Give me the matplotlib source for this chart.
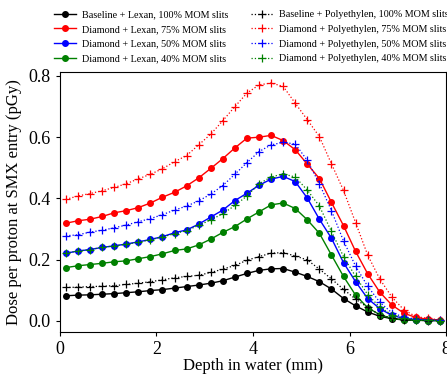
import matplotlib
matplotlib.use("Agg")
import matplotlib.pyplot as plt
import numpy as np

plt.rcParams['font.family'] = ['Liberation Serif', 'DejaVu Serif']
plt.rcParams['mathtext.fontset'] = 'stix'

# depth positions (mm), one bin every 0.25 mm
depth = np.arange(0.125, 8.0, 0.25)

# Lexan, circles
base_lexan_100 = [0.082, 0.084, 0.085, 0.087, 0.089, 0.092, 0.095, 0.099, 0.102, 0.107,
                  0.112, 0.117, 0.123, 0.131, 0.143, 0.155, 0.165, 0.170, 0.171, 0.159,
                  0.145, 0.128, 0.104, 0.073, 0.049, 0.029, 0.015, 0.007, 0.003, 0.002,
                  0.001, 0.001]
dia_lexan_75 = [0.319, 0.327, 0.332, 0.341, 0.353, 0.360, 0.370, 0.385, 0.404, 0.420,
                0.441, 0.467, 0.498, 0.530, 0.565, 0.597, 0.600, 0.606, 0.589, 0.559,
                0.512, 0.465, 0.387, 0.311, 0.227, 0.154, 0.094, 0.052, 0.025, 0.011,
                0.005, 0.003]
dia_lexan_50 = [0.221, 0.228, 0.233, 0.240, 0.245, 0.251, 0.258, 0.266, 0.275, 0.288,
                0.297, 0.316, 0.339, 0.362, 0.393, 0.417, 0.443, 0.463, 0.472, 0.455,
                0.401, 0.332, 0.270, 0.190, 0.128, 0.073, 0.040, 0.018, 0.008, 0.004,
                0.002, 0.001]
dia_lexan_40 = [0.174, 0.180, 0.184, 0.188, 0.193, 0.196, 0.203, 0.210, 0.219, 0.230,
                0.235, 0.248, 0.267, 0.289, 0.308, 0.333, 0.356, 0.379, 0.385, 0.367,
                0.330, 0.286, 0.215, 0.145, 0.084, 0.043, 0.020, 0.008, 0.004, 0.002,
                0.001, 0.001]

# Polyethylen, plus markers
base_poly_100 = [0.109, 0.110, 0.112, 0.113, 0.115, 0.119, 0.123, 0.128, 0.134, 0.141,
                 0.145, 0.149, 0.158, 0.169, 0.181, 0.198, 0.210, 0.221, 0.223, 0.212,
                 0.199, 0.169, 0.137, 0.103, 0.071, 0.044, 0.020, 0.009, 0.004, 0.002,
                 0.001, 0.001]
dia_poly_75 = [0.397, 0.408, 0.416, 0.425, 0.436, 0.448, 0.464, 0.479, 0.497, 0.520,
               0.540, 0.575, 0.610, 0.654, 0.700, 0.744, 0.771, 0.777, 0.766, 0.711,
               0.657, 0.602, 0.513, 0.426, 0.321, 0.215, 0.137, 0.078, 0.036, 0.014,
               0.008, 0.003]
dia_poly_50 = [0.278, 0.281, 0.290, 0.296, 0.304, 0.313, 0.324, 0.334, 0.347, 0.362,
               0.375, 0.392, 0.414, 0.442, 0.479, 0.517, 0.553, 0.575, 0.583, 0.578,
               0.524, 0.448, 0.360, 0.261, 0.179, 0.113, 0.061, 0.027, 0.012, 0.006,
               0.003, 0.002]
dia_poly_40 = [0.222, 0.228, 0.233, 0.240, 0.245, 0.250, 0.257, 0.265, 0.274, 0.285,
               0.295, 0.312, 0.330, 0.350, 0.377, 0.408, 0.448, 0.470, 0.480, 0.470,
               0.427, 0.375, 0.292, 0.210, 0.145, 0.086, 0.045, 0.020, 0.009, 0.004,
               0.002, 0.001]

colors = ['black', 'red', 'blue', 'green']
lexan = [base_lexan_100, dia_lexan_75, dia_lexan_50, dia_lexan_40]
poly = [base_poly_100, dia_poly_75, dia_poly_50, dia_poly_40]
lexan_labels = ['Baseline + Lexan, 100% MOM slits', 'Diamond + Lexan, 75% MOM slits',
                'Diamond + Lexan, 50% MOM slits', 'Diamond + Lexan, 40% MOM slits']
poly_labels = ['Baseline + Polyethylen, 100% MOM slits', 'Diamond + Polyethylen, 75% MOM slits',
               'Diamond + Polyethylen, 50% MOM slits', 'Diamond + Polyethylen, 40% MOM slits']

fig = plt.figure(figsize=(4.47, 3.75), dpi=100)
ax = fig.add_axes([0.134, 0.115, 0.864, 0.693])

for y, c, lab in zip(lexan, colors, lexan_labels):
    ax.plot(depth, y, '-', color=c, marker='o', ms=4, lw=1.0, label=lab)
for y, c, lab in zip(poly, colors, poly_labels):
    ax.plot(depth, y, ':', color=c, marker='+', ms=6, mew=0.9, lw=0.9, label=lab)

ax.set_xlim(0, 8)
ax.set_ylim(-0.036, 0.813)
ax.set_xticks([0, 2, 4, 6, 8])
ax.set_yticks([0.0, 0.2, 0.4, 0.6, 0.8])
ax.set_yticklabels(['0.0', '0.2', '0.4', '0.6', '0.8'])
ax.tick_params(labelsize=13, length=3)
ax.set_xlabel('Depth in water (mm)', fontsize=12, labelpad=0)
ax.set_ylabel('Dose per proton at SMX entry (pGy)', fontsize=12, labelpad=5)

fig.legend(loc='upper left', bbox_to_anchor=(0.104, 0.992), ncol=2, frameon=False,
           fontsize=7.3, handlelength=2.2, columnspacing=2.2, labelspacing=0.55,
           handletextpad=0.6, borderaxespad=0.3)

fig.savefig('out.png', dpi=100)
